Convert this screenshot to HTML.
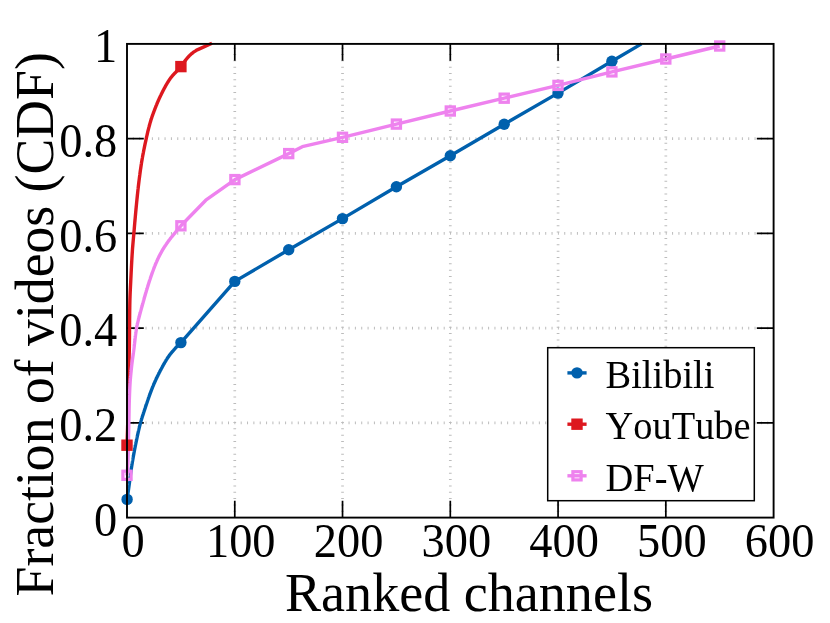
<!DOCTYPE html>
<html><head><meta charset="utf-8"><title>CDF</title>
<style>
html,body{margin:0;padding:0;background:#fff;}
body{width:830px;height:623px;overflow:hidden;}
svg{display:block;will-change:transform;}
text{font-family:"Liberation Serif",serif;fill:#000;font-kerning:none;}
</style></head><body>
<svg width="830" height="623" viewBox="0 0 830 623">
<rect x="0" y="0" width="830" height="623" fill="#fff"/>
<g stroke="#bcbcbc" stroke-width="2.7" stroke-dasharray="1 5.344" fill="none"><line x1="234.77" y1="518.10" x2="234.77" y2="43.90"/><line x1="342.53" y1="518.10" x2="342.53" y2="43.90"/><line x1="450.30" y1="518.10" x2="450.30" y2="43.90"/><line x1="558.07" y1="518.10" x2="558.07" y2="43.90"/><line x1="665.83" y1="518.10" x2="665.83" y2="43.90"/><line x1="126.50" y1="422.86" x2="773.60" y2="422.86"/><line x1="126.50" y1="328.12" x2="773.60" y2="328.12"/><line x1="126.50" y1="233.38" x2="773.60" y2="233.38"/><line x1="126.50" y1="138.64" x2="773.60" y2="138.64"/></g>
<path d="M234.77,517.60 v-16.80 M234.77,43.90 v16.80 M342.53,517.60 v-16.80 M342.53,43.90 v16.80 M450.30,517.60 v-16.80 M450.30,43.90 v16.80 M558.07,517.60 v-16.80 M558.07,43.90 v16.80 M665.83,517.60 v-16.80 M665.83,43.90 v16.80 M127.00,422.86 h16.80 M773.60,422.86 h-16.80 M127.00,328.12 h16.80 M773.60,328.12 h-16.80 M127.00,233.38 h16.80 M773.60,233.38 h-16.80 M127.00,138.64 h16.80 M773.60,138.64 h-16.80" stroke="#000" stroke-width="1.7" fill="none"/>
<g fill="none" stroke-width="3.4" stroke-linejoin="round" stroke-linecap="butt"><path d="M127.10,499.40 L127.15,499.08 L127.19,498.76 L127.24,498.44 L127.29,498.11 L127.33,497.79 L127.38,497.47 L127.43,497.15 L127.47,496.83 L127.52,496.51 L127.57,496.18 L127.61,495.86 L127.66,495.54 L127.71,495.22 L127.75,494.90 L127.80,494.58 L127.84,494.25 L127.89,493.93 L127.94,493.61 L127.98,493.29 L128.03,492.97 L128.07,492.64 L128.12,492.32 L128.16,492.00 L128.21,491.68 L128.26,491.36 L128.30,491.04 L128.35,490.71 L128.39,490.39 L128.44,490.07 L128.48,489.75 L128.53,489.43 L128.57,489.10 L128.62,488.78 L128.66,488.46 L128.71,488.14 L128.75,487.82 L128.79,487.50 L128.84,487.17 L128.88,486.85 L128.93,486.53 L128.97,486.21 L129.02,485.89 L129.06,485.56 L129.10,485.24 L129.15,484.92 L129.19,484.60 L129.24,484.28 L129.28,483.95 L129.32,483.63 L129.37,483.31 L129.41,482.99 L129.45,482.67 L129.49,482.34 L129.54,482.02 L129.58,481.70 L129.62,481.38 L129.66,481.05 L129.70,480.73 L129.74,480.41 L129.78,480.09 L129.82,479.76 L129.87,479.44 L129.91,479.12 L129.95,478.80 L129.99,478.47 L130.03,478.15 L130.07,477.83 L130.11,477.51 L130.15,477.18 L130.19,476.86 L130.23,476.54 L130.27,476.22 L130.31,475.89 L130.35,475.57 L130.40,475.25 L130.44,474.93 L130.48,474.60 L130.52,474.28 L130.56,473.96 L130.61,473.64 L130.65,473.32 L130.69,472.99 L130.74,472.67 L130.78,472.35 L130.83,472.03 L130.87,471.71 L130.92,471.38 L130.96,471.06 L131.01,470.74 L131.06,470.42 L131.10,470.10 L131.15,469.78 L131.20,469.46 L131.25,469.13 L131.29,468.81 L131.34,468.49 L131.39,468.17 L131.44,467.85 L131.49,467.53 L131.54,467.21 L131.59,466.89 L131.64,466.57 L131.69,466.24 L131.74,465.92 L131.80,465.60 L131.85,465.28 L131.90,464.96 L131.95,464.64 L132.00,464.32 L132.06,464.00 L132.11,463.68 L132.16,463.36 L132.22,463.04 L132.27,462.72 L132.32,462.40 L132.38,462.07 L132.43,461.75 L132.48,461.43 L132.54,461.11 L132.59,460.79 L132.65,460.47 L132.70,460.15 L132.76,459.83 L132.81,459.51 L132.87,459.19 L132.92,458.87 L132.98,458.55 L133.04,458.23 L133.09,457.91 L133.15,457.59 L133.20,457.27 L133.26,456.95 L133.32,456.63 L133.37,456.31 L133.43,455.99 L133.49,455.67 L133.54,455.35 L133.60,455.03 L133.66,454.71 L133.72,454.39 L133.77,454.07 L133.83,453.75 L133.89,453.43 L133.95,453.11 L134.01,452.79 L134.07,452.47 L134.13,452.15 L134.19,451.83 L134.24,451.51 L134.30,451.19 L134.36,450.87 L134.42,450.56 L134.48,450.24 L134.55,449.92 L134.61,449.60 L134.67,449.28 L134.73,448.96 L134.79,448.64 L134.85,448.32 L134.91,448.00 L134.98,447.68 L135.04,447.36 L135.10,447.04 L135.16,446.73 L135.23,446.41 L135.29,446.09 L135.35,445.77 L135.42,445.45 L135.48,445.13 L135.55,444.81 L135.61,444.49 L135.67,444.18 L135.74,443.86 L135.80,443.54 L135.87,443.22 L135.93,442.90 L136.00,442.58 L136.07,442.27 L136.13,441.95 L136.20,441.63 L136.26,441.31 L136.33,440.99 L136.40,440.68 L136.46,440.36 L136.53,440.04 L136.60,439.72 L136.66,439.40 L136.73,439.08 L136.79,438.77 L136.86,438.45 L136.93,438.13 L137.00,437.81 L137.06,437.49 L137.13,437.17 L137.20,436.86 L137.27,436.54 L137.33,436.22 L137.40,435.90 L137.47,435.58 L137.54,435.27 L137.61,434.95 L137.68,434.63 L137.75,434.31 L137.82,433.99 L137.89,433.68 L137.96,433.36 L138.03,433.04 L138.10,432.72 L138.17,432.41 L138.24,432.09 L138.31,431.77 L138.38,431.45 L138.45,431.14 L138.53,430.82 L138.60,430.50 L138.67,430.19 L138.75,429.87 L138.82,429.55 L138.89,429.24 L138.97,428.92 L139.04,428.60 L139.12,428.29 L139.20,427.97 L139.27,427.66 L139.35,427.34 L139.43,427.03 L139.50,426.71 L139.58,426.40 L139.66,426.08 L139.74,425.77 L139.82,425.45 L139.90,425.14 L139.98,424.82 L140.06,424.51 L140.14,424.19 L140.23,423.88 L140.31,423.57 L140.39,423.25 L140.48,422.94 L140.56,422.63 L140.65,422.32 L140.74,422.00 L140.83,421.69 L140.91,421.38 L141.01,421.07 L141.10,420.76 L141.19,420.44 L141.28,420.13 L141.37,419.82 L141.47,419.51 L141.56,419.20 L141.66,418.89 L141.75,418.58 L141.85,418.27 L141.95,417.96 L142.04,417.65 L142.14,417.34 L142.24,417.03 L142.34,416.72 L142.44,416.41 L142.54,416.10 L142.64,415.79 L142.74,415.48 L142.84,415.17 L142.94,414.86 L143.04,414.55 L143.14,414.24 L143.24,413.93 L143.35,413.62 L143.45,413.31 L143.55,413.00 L143.65,412.70 L143.75,412.39 L143.85,412.08 L143.95,411.77 L144.06,411.46 L144.16,411.15 L144.26,410.84 L144.36,410.53 L144.46,410.22 L144.56,409.91 L144.66,409.61 L144.76,409.30 L144.86,408.99 L144.96,408.68 L145.06,408.37 L145.17,408.06 L145.27,407.75 L145.37,407.44 L145.47,407.13 L145.57,406.83 L145.67,406.52 L145.77,406.21 L145.88,405.90 L145.98,405.59 L146.08,405.28 L146.18,404.97 L146.29,404.67 L146.39,404.36 L146.49,404.05 L146.60,403.74 L146.70,403.43 L146.80,403.12 L146.91,402.82 L147.01,402.51 L147.11,402.20 L147.22,401.89 L147.32,401.58 L147.43,401.28 L147.53,400.97 L147.64,400.66 L147.75,400.35 L147.85,400.05 L147.96,399.74 L148.06,399.43 L148.17,399.13 L148.28,398.82 L148.38,398.51 L148.49,398.21 L148.60,397.90 L148.71,397.59 L148.82,397.29 L148.92,396.98 L149.03,396.67 L149.14,396.37 L149.25,396.06 L149.36,395.76 L149.47,395.45 L149.58,395.14 L149.69,394.84 L149.80,394.53 L149.92,394.23 L150.03,393.92 L150.14,393.62 L150.25,393.31 L150.36,393.01 L150.48,392.71 L150.59,392.40 L150.70,392.10 L150.82,391.79 L150.93,391.49 L151.05,391.18 L151.16,390.88 L151.28,390.57 L151.39,390.27 L151.51,389.97 L151.63,389.66 L151.74,389.36 L151.86,389.06 L151.98,388.75 L152.10,388.45 L152.22,388.15 L152.34,387.85 L152.46,387.54 L152.58,387.24 L152.70,386.94 L152.82,386.64 L152.95,386.34 L153.07,386.04 L153.19,385.74 L153.32,385.44 L153.44,385.14 L153.57,384.84 L153.70,384.54 L153.82,384.24 L153.95,383.94 L154.08,383.65 L154.21,383.35 L154.34,383.05 L154.47,382.75 L154.60,382.46 L154.73,382.16 L154.87,381.86 L155.00,381.57 L155.13,381.27 L155.27,380.97 L155.40,380.68 L155.54,380.38 L155.67,380.09 L155.81,379.79 L155.94,379.49 L156.08,379.20 L156.22,378.90 L156.36,378.61 L156.49,378.32 L156.63,378.02 L156.77,377.73 L156.91,377.43 L157.05,377.14 L157.19,376.85 L157.34,376.55 L157.48,376.26 L157.62,375.97 L157.76,375.68 L157.91,375.38 L158.05,375.09 L158.20,374.80 L158.34,374.51 L158.49,374.22 L158.63,373.93 L158.78,373.64 L158.92,373.35 L159.07,373.06 L159.22,372.77 L159.37,372.48 L159.52,372.19 L159.66,371.90 L159.81,371.61 L159.96,371.32 L160.11,371.04 L160.26,370.75 L160.41,370.46 L160.57,370.18 L160.72,369.89 L160.87,369.60 L161.02,369.32 L161.17,369.03 L161.33,368.74 L161.48,368.45 L161.63,368.17 L161.79,367.88 L161.94,367.59 L162.10,367.31 L162.25,367.02 L162.41,366.73 L162.56,366.45 L162.72,366.16 L162.87,365.87 L163.03,365.59 L163.19,365.30 L163.35,365.01 L163.51,364.73 L163.67,364.44 L163.83,364.16 L163.99,363.88 L164.15,363.59 L164.31,363.31 L164.47,363.02 L164.63,362.74 L164.80,362.46 L164.96,362.18 L165.13,361.90 L165.29,361.62 L165.46,361.34 L165.63,361.06 L165.80,360.78 L165.96,360.50 L166.13,360.22 L166.30,359.95 L166.48,359.67 L166.65,359.39 L166.82,359.12 L167.00,358.85 L167.17,358.57 L167.35,358.30 L167.52,358.03 L167.70,357.76 L167.88,357.49 L168.06,357.22 L168.24,356.95 L168.42,356.69 L168.61,356.42 L168.79,356.16 L168.97,355.89 L169.16,355.63 L169.35,355.37 L169.54,355.11 L169.74,354.85 L169.93,354.59 L170.13,354.33 L170.33,354.08 L170.53,353.82 L170.73,353.57 L170.93,353.31 L171.14,353.06 L171.34,352.81 L171.55,352.56 L171.76,352.30 L171.97,352.05 L172.18,351.81 L172.39,351.56 L172.60,351.31 L172.82,351.06 L173.03,350.82 L173.25,350.57 L173.46,350.32 L173.68,350.08 L173.89,349.84 L174.11,349.59 L174.33,349.35 L174.54,349.11 L174.76,348.87 L174.98,348.63 L175.19,348.39 L175.41,348.15 L175.63,347.91 L175.85,347.67 L176.07,347.43 L176.29,347.19 L176.52,346.96 L176.74,346.72 L176.96,346.49 L177.19,346.25 L177.42,346.02 L177.64,345.79 L177.87,345.55 L178.10,345.32 L178.33,345.09 L178.56,344.86 L178.79,344.63 L179.02,344.40 L179.25,344.18 L179.49,343.95 L179.72,343.72 L179.95,343.50 L180.19,343.27 L180.43,343.05 L180.66,342.82 L180.90,342.60 L234.80,281.40 L288.70,249.80 L342.50,218.60 L396.40,186.70 L450.30,155.80 L504.20,124.20 L558.00,93.10 L611.90,61.30 L641.50,43.90" stroke="#0060ad"/><path d="M127.00,445.20 L127.02,444.71 L127.04,444.22 L127.05,443.72 L127.07,443.23 L127.09,442.74 L127.11,442.25 L127.12,441.76 L127.14,441.27 L127.16,440.77 L127.18,440.28 L127.19,439.79 L127.21,439.30 L127.23,438.81 L127.24,438.31 L127.26,437.82 L127.28,437.33 L127.29,436.84 L127.31,436.35 L127.33,435.85 L127.34,435.36 L127.36,434.87 L127.38,434.38 L127.39,433.89 L127.41,433.40 L127.43,432.90 L127.44,432.41 L127.46,431.92 L127.47,431.43 L127.49,430.94 L127.51,430.44 L127.52,429.95 L127.54,429.46 L127.55,428.97 L127.57,428.48 L127.58,427.98 L127.60,427.49 L127.61,427.00 L127.62,426.51 L127.64,426.02 L127.65,425.53 L127.67,425.03 L127.68,424.54 L127.69,424.05 L127.71,423.56 L127.72,423.07 L127.73,422.57 L127.75,422.08 L127.76,421.59 L127.77,421.10 L127.79,420.61 L127.80,420.11 L127.81,419.62 L127.82,419.13 L127.83,418.64 L127.84,418.15 L127.86,417.65 L127.87,417.16 L127.88,416.67 L127.89,416.18 L127.90,415.69 L127.91,415.19 L127.92,414.70 L127.93,414.21 L127.94,413.72 L127.95,413.23 L127.96,412.73 L127.97,412.24 L127.98,411.75 L127.99,411.26 L128.00,410.77 L128.01,410.27 L128.02,409.78 L128.03,409.29 L128.04,408.80 L128.05,408.31 L128.06,407.81 L128.07,407.32 L128.08,406.83 L128.09,406.34 L128.10,405.85 L128.10,405.35 L128.11,404.86 L128.12,404.37 L128.13,403.88 L128.14,403.39 L128.15,402.89 L128.16,402.40 L128.16,401.91 L128.17,401.42 L128.18,400.92 L128.19,400.43 L128.20,399.94 L128.21,399.45 L128.21,398.96 L128.22,398.46 L128.23,397.97 L128.24,397.48 L128.25,396.99 L128.25,396.50 L128.26,396.00 L128.27,395.51 L128.28,395.02 L128.29,394.53 L128.29,394.04 L128.30,393.54 L128.31,393.05 L128.32,392.56 L128.33,392.07 L128.33,391.58 L128.34,391.08 L128.35,390.59 L128.36,390.10 L128.37,389.61 L128.37,389.11 L128.38,388.62 L128.39,388.13 L128.40,387.64 L128.41,387.15 L128.42,386.65 L128.42,386.16 L128.43,385.67 L128.44,385.18 L128.45,384.69 L128.46,384.19 L128.47,383.70 L128.47,383.21 L128.48,382.72 L128.49,382.23 L128.50,381.73 L128.51,381.24 L128.52,380.75 L128.53,380.26 L128.54,379.77 L128.54,379.27 L128.55,378.78 L128.56,378.29 L128.57,377.80 L128.58,377.31 L128.59,376.81 L128.60,376.32 L128.61,375.83 L128.62,375.34 L128.63,374.84 L128.64,374.35 L128.65,373.86 L128.66,373.37 L128.67,372.88 L128.68,372.38 L128.69,371.89 L128.70,371.40 L128.71,370.91 L128.72,370.42 L128.73,369.92 L128.74,369.43 L128.75,368.94 L128.77,368.45 L128.78,367.96 L128.79,367.46 L128.80,366.97 L128.81,366.48 L128.83,365.99 L128.84,365.50 L128.85,365.00 L128.87,364.51 L128.88,364.02 L128.90,363.53 L128.91,363.04 L128.93,362.55 L128.94,362.05 L128.96,361.56 L128.98,361.07 L128.99,360.58 L129.01,360.09 L129.03,359.59 L129.04,359.10 L129.06,358.61 L129.08,358.12 L129.09,357.63 L129.11,357.13 L129.13,356.64 L129.14,356.15 L129.16,355.66 L129.17,355.17 L129.19,354.68 L129.20,354.18 L129.22,353.69 L129.23,353.20 L129.24,352.71 L129.25,352.22 L129.27,351.72 L129.28,351.23 L129.29,350.74 L129.30,350.25 L129.30,349.76 L129.31,349.26 L129.32,348.77 L129.33,348.28 L129.34,347.79 L129.34,347.30 L129.35,346.80 L129.36,346.31 L129.36,345.82 L129.37,345.33 L129.38,344.84 L129.38,344.34 L129.39,343.85 L129.40,343.36 L129.40,342.87 L129.41,342.37 L129.41,341.88 L129.42,341.39 L129.43,340.90 L129.43,340.41 L129.44,339.91 L129.44,339.42 L129.45,338.93 L129.45,338.44 L129.46,337.95 L129.46,337.45 L129.47,336.96 L129.47,336.47 L129.47,335.98 L129.48,335.48 L129.48,334.99 L129.49,334.50 L129.49,334.01 L129.50,333.52 L129.50,333.02 L129.50,332.53 L129.51,332.04 L129.51,331.55 L129.51,331.05 L129.52,330.56 L129.52,330.07 L129.53,329.58 L129.53,329.09 L129.53,328.59 L129.54,328.10 L129.54,327.61 L129.55,327.12 L129.55,326.63 L129.55,326.13 L129.56,325.64 L129.56,325.15 L129.56,324.66 L129.57,324.16 L129.57,323.67 L129.58,323.18 L129.58,322.69 L129.58,322.20 L129.59,321.70 L129.59,321.21 L129.60,320.72 L129.60,320.23 L129.60,319.73 L129.61,319.24 L129.61,318.75 L129.62,318.26 L129.62,317.77 L129.63,317.27 L129.63,316.78 L129.64,316.29 L129.64,315.80 L129.65,315.31 L129.65,314.81 L129.66,314.32 L129.66,313.83 L129.67,313.34 L129.68,312.85 L129.68,312.35 L129.69,311.86 L129.69,311.37 L129.70,310.88 L129.71,310.39 L129.71,309.89 L129.72,309.40 L129.73,308.91 L129.74,308.42 L129.74,307.93 L129.75,307.43 L129.76,306.94 L129.77,306.45 L129.77,305.96 L129.78,305.47 L129.79,304.97 L129.80,304.48 L129.81,303.99 L129.82,303.50 L129.83,303.01 L129.84,302.51 L129.85,302.02 L129.87,301.53 L129.88,301.04 L129.89,300.55 L129.91,300.06 L129.92,299.56 L129.94,299.07 L129.95,298.58 L129.97,298.09 L129.99,297.60 L130.00,297.10 L130.02,296.61 L130.04,296.12 L130.06,295.63 L130.08,295.14 L130.10,294.65 L130.12,294.15 L130.14,293.66 L130.16,293.17 L130.18,292.68 L130.20,292.19 L130.22,291.69 L130.25,291.20 L130.27,290.71 L130.29,290.22 L130.31,289.73 L130.34,289.24 L130.36,288.74 L130.38,288.25 L130.41,287.76 L130.43,287.27 L130.45,286.78 L130.48,286.29 L130.50,285.79 L130.53,285.30 L130.55,284.81 L130.58,284.32 L130.60,283.83 L130.63,283.34 L130.65,282.84 L130.68,282.35 L130.70,281.86 L130.72,281.37 L130.75,280.88 L130.77,280.39 L130.80,279.90 L130.82,279.40 L130.85,278.91 L130.87,278.42 L130.90,277.93 L130.92,277.44 L130.94,276.95 L130.97,276.45 L130.99,275.96 L131.02,275.47 L131.04,274.98 L131.06,274.49 L131.09,274.00 L131.11,273.51 L131.13,273.01 L131.16,272.52 L131.18,272.03 L131.21,271.54 L131.23,271.05 L131.26,270.56 L131.28,270.06 L131.30,269.57 L131.33,269.08 L131.35,268.59 L131.38,268.10 L131.40,267.61 L131.43,267.11 L131.45,266.62 L131.48,266.13 L131.51,265.64 L131.53,265.15 L131.56,264.66 L131.58,264.17 L131.61,263.67 L131.64,263.18 L131.66,262.69 L131.69,262.20 L131.72,261.71 L131.75,261.22 L131.77,260.73 L131.80,260.23 L131.83,259.74 L131.86,259.25 L131.89,258.76 L131.92,258.27 L131.94,257.78 L131.97,257.29 L132.00,256.79 L132.03,256.30 L132.06,255.81 L132.09,255.32 L132.12,254.83 L132.16,254.34 L132.19,253.85 L132.22,253.36 L132.25,252.87 L132.28,252.38 L132.31,251.88 L132.35,251.39 L132.38,250.90 L132.41,250.41 L132.45,249.92 L132.48,249.43 L132.52,248.94 L132.55,248.45 L132.59,247.96 L132.63,247.47 L132.67,246.98 L132.71,246.49 L132.75,246.00 L132.79,245.51 L132.83,245.01 L132.87,244.52 L132.91,244.03 L132.95,243.54 L133.00,243.05 L133.04,242.56 L133.08,242.07 L133.12,241.58 L133.17,241.09 L133.21,240.60 L133.26,240.11 L133.30,239.62 L133.34,239.13 L133.39,238.64 L133.43,238.15 L133.48,237.66 L133.52,237.17 L133.57,236.68 L133.61,236.19 L133.65,235.70 L133.70,235.21 L133.74,234.72 L133.78,234.23 L133.83,233.74 L133.87,233.25 L133.91,232.76 L133.95,232.27 L134.00,231.78 L134.04,231.29 L134.08,230.80 L134.12,230.31 L134.17,229.82 L134.21,229.33 L134.25,228.84 L134.29,228.35 L134.33,227.85 L134.38,227.36 L134.42,226.87 L134.46,226.38 L134.50,225.89 L134.54,225.40 L134.59,224.91 L134.63,224.42 L134.67,223.93 L134.71,223.44 L134.76,222.95 L134.80,222.46 L134.84,221.97 L134.89,221.48 L134.93,220.99 L134.97,220.50 L135.01,220.01 L135.06,219.52 L135.10,219.03 L135.14,218.54 L135.19,218.05 L135.23,217.56 L135.28,217.07 L135.32,216.58 L135.36,216.09 L135.41,215.60 L135.45,215.11 L135.50,214.62 L135.54,214.13 L135.59,213.64 L135.63,213.15 L135.68,212.66 L135.72,212.17 L135.77,211.68 L135.81,211.19 L135.86,210.70 L135.91,210.21 L135.95,209.72 L136.00,209.23 L136.04,208.74 L136.09,208.25 L136.14,207.76 L136.18,207.27 L136.23,206.78 L136.28,206.29 L136.33,205.80 L136.37,205.31 L136.42,204.82 L136.47,204.33 L136.52,203.84 L136.56,203.35 L136.61,202.86 L136.66,202.37 L136.71,201.88 L136.76,201.39 L136.81,200.90 L136.86,200.41 L136.91,199.92 L136.96,199.43 L137.01,198.94 L137.06,198.45 L137.11,197.96 L137.16,197.47 L137.21,196.98 L137.26,196.49 L137.31,196.00 L137.36,195.52 L137.41,195.03 L137.46,194.54 L137.51,194.05 L137.56,193.56 L137.62,193.07 L137.67,192.58 L137.72,192.09 L137.77,191.60 L137.83,191.11 L137.88,190.62 L137.93,190.13 L137.99,189.64 L138.04,189.15 L138.09,188.66 L138.15,188.18 L138.20,187.69 L138.26,187.20 L138.32,186.71 L138.37,186.22 L138.43,185.73 L138.49,185.24 L138.55,184.75 L138.60,184.27 L138.66,183.78 L138.72,183.29 L138.78,182.80 L138.84,182.31 L138.90,181.82 L138.96,181.33 L139.02,180.85 L139.08,180.36 L139.14,179.87 L139.20,179.38 L139.27,178.89 L139.33,178.40 L139.39,177.91 L139.45,177.43 L139.52,176.94 L139.58,176.45 L139.64,175.96 L139.71,175.47 L139.77,174.98 L139.84,174.50 L139.90,174.01 L139.97,173.52 L140.03,173.03 L140.10,172.55 L140.17,172.06 L140.23,171.57 L140.30,171.08 L140.37,170.59 L140.44,170.11 L140.51,169.62 L140.58,169.13 L140.65,168.65 L140.72,168.16 L140.79,167.67 L140.86,167.18 L140.93,166.70 L141.01,166.21 L141.08,165.73 L141.15,165.24 L141.23,164.75 L141.30,164.27 L141.38,163.78 L141.46,163.30 L141.53,162.81 L141.61,162.32 L141.69,161.84 L141.77,161.35 L141.85,160.87 L141.93,160.38 L142.01,159.90 L142.10,159.41 L142.18,158.93 L142.26,158.44 L142.35,157.96 L142.43,157.47 L142.52,156.99 L142.61,156.51 L142.70,156.02 L142.78,155.54 L142.87,155.05 L142.96,154.57 L143.05,154.09 L143.14,153.60 L143.24,153.12 L143.33,152.63 L143.42,152.15 L143.52,151.67 L143.61,151.18 L143.70,150.70 L143.80,150.22 L143.90,149.73 L143.99,149.25 L144.09,148.77 L144.19,148.29 L144.29,147.80 L144.38,147.32 L144.48,146.84 L144.58,146.36 L144.68,145.87 L144.78,145.39 L144.88,144.91 L144.99,144.43 L145.09,143.95 L145.19,143.46 L145.29,142.98 L145.40,142.50 L145.50,142.02 L145.60,141.54 L145.71,141.06 L145.81,140.58 L145.92,140.10 L146.02,139.62 L146.13,139.14 L146.23,138.66 L146.34,138.18 L146.44,137.70 L146.55,137.22 L146.66,136.74 L146.77,136.25 L146.87,135.77 L146.98,135.29 L147.09,134.81 L147.20,134.33 L147.31,133.85 L147.43,133.37 L147.54,132.89 L147.65,132.41 L147.76,131.93 L147.88,131.45 L147.99,130.98 L148.11,130.50 L148.23,130.02 L148.35,129.54 L148.47,129.06 L148.59,128.58 L148.71,128.11 L148.83,127.63 L148.95,127.15 L149.08,126.68 L149.20,126.20 L149.33,125.73 L149.46,125.25 L149.59,124.78 L149.72,124.30 L149.85,123.83 L149.98,123.36 L150.12,122.88 L150.25,122.41 L150.39,121.94 L150.53,121.47 L150.67,121.00 L150.81,120.53 L150.96,120.06 L151.11,119.59 L151.25,119.12 L151.41,118.66 L151.56,118.19 L151.72,117.72 L151.87,117.25 L152.03,116.79 L152.19,116.32 L152.35,115.86 L152.52,115.39 L152.68,114.93 L152.85,114.46 L153.02,114.00 L153.18,113.54 L153.35,113.07 L153.53,112.61 L153.70,112.15 L153.87,111.69 L154.04,111.23 L154.22,110.76 L154.39,110.30 L154.57,109.84 L154.74,109.38 L154.92,108.93 L155.10,108.47 L155.27,108.01 L155.45,107.55 L155.63,107.09 L155.81,106.63 L155.99,106.18 L156.18,105.72 L156.36,105.26 L156.55,104.81 L156.73,104.35 L156.92,103.89 L157.11,103.44 L157.30,102.98 L157.49,102.53 L157.68,102.08 L157.88,101.62 L158.07,101.17 L158.27,100.72 L158.47,100.27 L158.67,99.82 L158.87,99.37 L159.07,98.92 L159.28,98.47 L159.48,98.03 L159.69,97.58 L159.90,97.14 L160.11,96.69 L160.32,96.25 L160.54,95.81 L160.75,95.37 L160.97,94.93 L161.18,94.48 L161.40,94.04 L161.62,93.60 L161.84,93.15 L162.06,92.71 L162.28,92.27 L162.50,91.82 L162.72,91.38 L162.95,90.94 L163.17,90.50 L163.40,90.06 L163.63,89.62 L163.86,89.18 L164.09,88.74 L164.32,88.30 L164.56,87.86 L164.79,87.43 L165.03,86.99 L165.27,86.56 L165.51,86.12 L165.75,85.69 L166.00,85.26 L166.24,84.83 L166.49,84.41 L166.74,83.98 L166.99,83.56 L167.25,83.14 L167.50,82.72 L167.76,82.30 L168.02,81.88 L168.28,81.47 L168.54,81.06 L168.81,80.65 L169.08,80.24 L169.35,79.84 L169.62,79.43 L169.89,79.04 L170.17,78.64 L170.45,78.25 L170.74,77.86 L171.04,77.47 L171.34,77.09 L171.65,76.71 L171.96,76.34 L172.28,75.97 L172.60,75.60 L172.92,75.23 L173.25,74.86 L173.59,74.50 L173.92,74.14 L174.26,73.78 L174.60,73.42 L174.95,73.07 L175.29,72.71 L175.64,72.35 L175.98,72.00 L176.33,71.64 L176.67,71.28 L177.02,70.93 L177.36,70.57 L177.71,70.21 L178.05,69.85 L178.39,69.49 L178.72,69.12 L179.06,68.76 L179.39,68.39 L179.71,68.02 L180.03,67.65 L180.35,67.27 L180.66,66.89 L180.97,66.51 L181.27,66.12 L181.57,65.73 L181.86,65.34 L182.15,64.94 L182.43,64.53 L182.71,64.13 L183.00,63.72 L183.28,63.31 L183.56,62.91 L183.84,62.50 L184.12,62.10 L184.40,61.69 L184.69,61.30 L184.98,60.90 L185.28,60.51 L185.58,60.12 L185.89,59.74 L186.20,59.36 L186.51,58.98 L186.83,58.61 L187.15,58.23 L187.48,57.85 L187.80,57.48 L188.13,57.11 L188.47,56.74 L188.80,56.38 L189.14,56.01 L189.49,55.66 L189.83,55.31 L190.19,54.97 L190.54,54.63 L190.90,54.30 L191.27,53.98 L191.64,53.67 L192.01,53.36 L192.39,53.06 L192.78,52.77 L193.17,52.47 L193.57,52.19 L193.97,51.90 L194.38,51.63 L194.79,51.35 L195.21,51.09 L195.63,50.83 L196.05,50.57 L196.48,50.32 L196.92,50.07 L197.36,49.83 L197.80,49.60 L212.00,43.20" stroke="#dd181f"/><path d="M127.00,475.30 L127.03,474.94 L127.06,474.58 L127.09,474.22 L127.12,473.85 L127.15,473.49 L127.18,473.13 L127.21,472.77 L127.24,472.41 L127.26,472.05 L127.29,471.69 L127.32,471.32 L127.35,470.96 L127.38,470.60 L127.40,470.24 L127.43,469.88 L127.46,469.52 L127.48,469.15 L127.51,468.79 L127.54,468.43 L127.56,468.07 L127.59,467.71 L127.61,467.35 L127.63,466.98 L127.66,466.62 L127.68,466.26 L127.70,465.90 L127.72,465.54 L127.74,465.18 L127.76,464.81 L127.78,464.45 L127.80,464.09 L127.82,463.73 L127.84,463.37 L127.86,463.01 L127.87,462.64 L127.89,462.28 L127.90,461.92 L127.92,461.56 L127.93,461.20 L127.95,460.83 L127.96,460.47 L127.97,460.11 L127.99,459.75 L128.00,459.38 L128.01,459.02 L128.02,458.66 L128.04,458.30 L128.05,457.94 L128.06,457.57 L128.07,457.21 L128.08,456.85 L128.10,456.49 L128.11,456.13 L128.12,455.76 L128.13,455.40 L128.14,455.04 L128.15,454.68 L128.16,454.31 L128.17,453.95 L128.18,453.59 L128.19,453.23 L128.20,452.86 L128.21,452.50 L128.22,452.14 L128.23,451.78 L128.24,451.41 L128.25,451.05 L128.26,450.69 L128.26,450.33 L128.27,449.96 L128.28,449.60 L128.29,449.24 L128.30,448.88 L128.31,448.52 L128.32,448.15 L128.32,447.79 L128.33,447.43 L128.34,447.07 L128.35,446.70 L128.36,446.34 L128.37,445.98 L128.37,445.62 L128.38,445.25 L128.39,444.89 L128.40,444.53 L128.41,444.17 L128.41,443.80 L128.42,443.44 L128.43,443.08 L128.44,442.72 L128.45,442.35 L128.45,441.99 L128.46,441.63 L128.47,441.27 L128.48,440.90 L128.49,440.54 L128.50,440.18 L128.50,439.82 L128.51,439.45 L128.52,439.09 L128.53,438.73 L128.54,438.37 L128.54,438.00 L128.55,437.64 L128.56,437.28 L128.57,436.92 L128.58,436.56 L128.58,436.19 L128.59,435.83 L128.60,435.47 L128.61,435.11 L128.61,434.74 L128.62,434.38 L128.63,434.02 L128.64,433.66 L128.64,433.29 L128.65,432.93 L128.66,432.57 L128.67,432.21 L128.67,431.84 L128.68,431.48 L128.69,431.12 L128.69,430.76 L128.70,430.39 L128.71,430.03 L128.71,429.67 L128.72,429.31 L128.73,428.95 L128.74,428.58 L128.74,428.22 L128.75,427.86 L128.76,427.50 L128.76,427.13 L128.77,426.77 L128.78,426.41 L128.78,426.05 L128.79,425.68 L128.80,425.32 L128.80,424.96 L128.81,424.60 L128.82,424.23 L128.83,423.87 L128.83,423.51 L128.84,423.15 L128.85,422.78 L128.85,422.42 L128.86,422.06 L128.87,421.70 L128.87,421.33 L128.88,420.97 L128.89,420.61 L128.90,420.25 L128.90,419.89 L128.91,419.52 L128.92,419.16 L128.92,418.80 L128.93,418.44 L128.94,418.07 L128.94,417.71 L128.95,417.35 L128.96,416.99 L128.96,416.62 L128.97,416.26 L128.98,415.90 L128.98,415.54 L128.99,415.17 L128.99,414.81 L129.00,414.45 L129.01,414.09 L129.01,413.72 L129.02,413.36 L129.03,413.00 L129.03,412.64 L129.04,412.27 L129.04,411.91 L129.05,411.55 L129.06,411.19 L129.06,410.82 L129.07,410.46 L129.08,410.10 L129.08,409.74 L129.09,409.37 L129.10,409.01 L129.11,408.65 L129.11,408.29 L129.12,407.93 L129.13,407.56 L129.14,407.20 L129.14,406.84 L129.15,406.48 L129.16,406.11 L129.17,405.75 L129.18,405.39 L129.19,405.03 L129.20,404.66 L129.21,404.30 L129.21,403.94 L129.22,403.58 L129.23,403.21 L129.24,402.85 L129.25,402.49 L129.26,402.13 L129.27,401.77 L129.29,401.40 L129.30,401.04 L129.31,400.68 L129.32,400.32 L129.33,399.95 L129.34,399.59 L129.35,399.23 L129.36,398.87 L129.38,398.50 L129.39,398.14 L129.40,397.78 L129.41,397.42 L129.43,397.05 L129.44,396.69 L129.45,396.33 L129.47,395.97 L129.48,395.61 L129.49,395.24 L129.51,394.88 L129.52,394.52 L129.53,394.16 L129.55,393.79 L129.56,393.43 L129.58,393.07 L129.59,392.71 L129.61,392.34 L129.62,391.98 L129.64,391.62 L129.66,391.26 L129.67,390.90 L129.69,390.53 L129.70,390.17 L129.72,389.81 L129.74,389.45 L129.75,389.09 L129.77,388.72 L129.79,388.36 L129.81,388.00 L129.82,387.64 L129.84,387.28 L129.86,386.91 L129.88,386.55 L129.90,386.19 L129.92,385.83 L129.94,385.47 L129.96,385.10 L129.98,384.74 L130.00,384.38 L130.02,384.02 L130.04,383.66 L130.06,383.30 L130.08,382.94 L130.10,382.57 L130.13,382.21 L130.15,381.85 L130.18,381.49 L130.20,381.13 L130.23,380.77 L130.26,380.40 L130.28,380.04 L130.31,379.68 L130.34,379.32 L130.37,378.96 L130.40,378.60 L130.43,378.24 L130.46,377.88 L130.49,377.51 L130.53,377.15 L130.56,376.79 L130.59,376.43 L130.62,376.07 L130.66,375.71 L130.69,375.35 L130.72,374.99 L130.76,374.63 L130.79,374.26 L130.83,373.90 L130.86,373.54 L130.90,373.18 L130.94,372.82 L130.97,372.46 L131.01,372.10 L131.05,371.74 L131.08,371.38 L131.12,371.02 L131.16,370.66 L131.20,370.30 L131.23,369.93 L131.27,369.57 L131.31,369.21 L131.35,368.85 L131.38,368.49 L131.42,368.13 L131.46,367.77 L131.50,367.41 L131.54,367.05 L131.58,366.69 L131.62,366.33 L131.66,365.97 L131.70,365.61 L131.74,365.25 L131.78,364.89 L131.83,364.53 L131.87,364.17 L131.91,363.81 L131.96,363.45 L132.01,363.09 L132.05,362.73 L132.10,362.38 L132.14,362.02 L132.19,361.66 L132.24,361.30 L132.29,360.94 L132.34,360.58 L132.38,360.22 L132.43,359.86 L132.48,359.50 L132.53,359.14 L132.58,358.78 L132.63,358.42 L132.68,358.06 L132.73,357.71 L132.78,357.35 L132.83,356.99 L132.88,356.63 L132.93,356.27 L132.98,355.91 L133.03,355.55 L133.08,355.19 L133.13,354.83 L133.18,354.47 L133.23,354.11 L133.28,353.75 L133.33,353.40 L133.38,353.04 L133.43,352.68 L133.47,352.32 L133.52,351.96 L133.57,351.60 L133.62,351.24 L133.66,350.88 L133.71,350.52 L133.76,350.16 L133.80,349.80 L133.85,349.44 L133.89,349.08 L133.94,348.72 L133.98,348.36 L134.02,348.00 L134.07,347.64 L134.11,347.28 L134.15,346.92 L134.19,346.56 L134.24,346.20 L134.28,345.84 L134.32,345.48 L134.36,345.12 L134.40,344.76 L134.44,344.40 L134.48,344.03 L134.52,343.67 L134.57,343.31 L134.61,342.95 L134.65,342.59 L134.69,342.23 L134.73,341.87 L134.77,341.51 L134.81,341.15 L134.85,340.79 L134.89,340.43 L134.93,340.07 L134.97,339.71 L135.02,339.35 L135.06,338.98 L135.10,338.62 L135.14,338.26 L135.19,337.90 L135.23,337.54 L135.27,337.18 L135.32,336.82 L135.36,336.46 L135.40,336.10 L135.45,335.74 L135.49,335.38 L135.54,335.02 L135.59,334.66 L135.63,334.31 L135.68,333.95 L135.73,333.59 L135.78,333.23 L135.82,332.87 L135.87,332.51 L135.92,332.15 L135.98,331.79 L136.03,331.44 L136.08,331.08 L136.13,330.72 L136.19,330.36 L136.24,330.01 L136.30,329.65 L136.35,329.29 L136.41,328.94 L136.47,328.58 L136.53,328.22 L136.59,327.87 L136.65,327.51 L136.71,327.16 L136.78,326.80 L136.85,326.45 L136.92,326.09 L136.99,325.74 L137.06,325.38 L137.14,325.03 L137.21,324.67 L137.29,324.32 L137.37,323.97 L137.45,323.61 L137.53,323.26 L137.62,322.91 L137.70,322.55 L137.79,322.20 L137.87,321.85 L137.96,321.50 L138.05,321.14 L138.14,320.79 L138.23,320.44 L138.31,320.09 L138.41,319.74 L138.50,319.38 L138.59,319.03 L138.68,318.68 L138.77,318.33 L138.86,317.98 L138.95,317.63 L139.04,317.27 L139.13,316.92 L139.23,316.57 L139.32,316.22 L139.41,315.87 L139.50,315.52 L139.58,315.17 L139.68,314.82 L139.77,314.47 L139.86,314.11 L139.95,313.76 L140.04,313.41 L140.14,313.06 L140.23,312.71 L140.32,312.36 L140.42,312.01 L140.51,311.66 L140.61,311.31 L140.71,310.97 L140.80,310.62 L140.90,310.27 L141.00,309.92 L141.09,309.57 L141.19,309.22 L141.29,308.87 L141.39,308.52 L141.48,308.17 L141.58,307.82 L141.68,307.47 L141.78,307.12 L141.88,306.78 L141.98,306.43 L142.08,306.08 L142.17,305.73 L142.27,305.38 L142.37,305.03 L142.47,304.68 L142.57,304.33 L142.66,303.98 L142.76,303.64 L142.86,303.29 L142.96,302.94 L143.05,302.59 L143.15,302.24 L143.25,301.89 L143.35,301.54 L143.44,301.19 L143.54,300.84 L143.64,300.49 L143.73,300.14 L143.83,299.79 L143.93,299.44 L144.02,299.09 L144.12,298.75 L144.22,298.40 L144.32,298.05 L144.41,297.70 L144.51,297.35 L144.61,297.00 L144.71,296.65 L144.81,296.30 L144.91,295.95 L145.01,295.60 L145.10,295.26 L145.20,294.91 L145.30,294.56 L145.40,294.21 L145.50,293.86 L145.61,293.51 L145.71,293.17 L145.81,292.82 L145.91,292.47 L146.01,292.12 L146.12,291.78 L146.22,291.43 L146.33,291.08 L146.43,290.74 L146.53,290.39 L146.64,290.04 L146.74,289.69 L146.85,289.35 L146.95,289.00 L147.06,288.65 L147.16,288.31 L147.27,287.96 L147.37,287.61 L147.48,287.27 L147.59,286.92 L147.69,286.57 L147.80,286.23 L147.91,285.88 L148.02,285.53 L148.12,285.19 L148.23,284.84 L148.34,284.49 L148.45,284.15 L148.56,283.80 L148.67,283.46 L148.78,283.11 L148.89,282.77 L149.00,282.42 L149.11,282.07 L149.22,281.73 L149.33,281.38 L149.44,281.04 L149.55,280.69 L149.67,280.35 L149.78,280.01 L149.89,279.66 L150.01,279.32 L150.12,278.97 L150.24,278.63 L150.35,278.29 L150.47,277.94 L150.58,277.60 L150.70,277.26 L150.82,276.91 L150.93,276.57 L151.05,276.23 L151.17,275.89 L151.29,275.55 L151.41,275.20 L151.53,274.86 L151.65,274.52 L151.77,274.18 L151.89,273.83 L152.01,273.49 L152.13,273.15 L152.25,272.81 L152.37,272.47 L152.50,272.13 L152.62,271.78 L152.74,271.44 L152.87,271.10 L152.99,270.76 L153.12,270.42 L153.24,270.08 L153.37,269.74 L153.50,269.40 L153.62,269.06 L153.75,268.72 L153.88,268.38 L154.01,268.04 L154.14,267.70 L154.27,267.36 L154.40,267.02 L154.53,266.69 L154.67,266.35 L154.80,266.01 L154.93,265.68 L155.07,265.34 L155.21,265.00 L155.34,264.67 L155.48,264.33 L155.62,264.00 L155.76,263.67 L155.90,263.33 L156.04,263.00 L156.18,262.67 L156.33,262.34 L156.47,262.01 L156.62,261.68 L156.76,261.34 L156.91,261.01 L157.06,260.68 L157.21,260.35 L157.36,260.02 L157.51,259.69 L157.67,259.36 L157.82,259.04 L157.97,258.71 L158.13,258.38 L158.29,258.05 L158.45,257.72 L158.60,257.40 L158.76,257.07 L158.92,256.74 L159.09,256.42 L159.25,256.09 L159.41,255.77 L159.58,255.44 L159.74,255.12 L159.91,254.80 L160.08,254.48 L160.25,254.15 L160.42,253.83 L160.59,253.51 L160.76,253.19 L160.93,252.87 L161.10,252.56 L161.28,252.24 L161.45,251.92 L161.63,251.61 L161.81,251.29 L161.98,250.98 L162.16,250.66 L162.34,250.35 L162.52,250.04 L162.71,249.73 L162.89,249.42 L163.08,249.11 L163.27,248.80 L163.46,248.49 L163.65,248.18 L163.84,247.88 L164.03,247.57 L164.23,247.26 L164.42,246.96 L164.62,246.65 L164.82,246.35 L165.02,246.05 L165.22,245.74 L165.42,245.44 L165.63,245.14 L165.83,244.84 L166.04,244.54 L166.24,244.24 L166.45,243.94 L166.65,243.64 L166.86,243.34 L167.07,243.04 L167.28,242.75 L167.49,242.45 L167.70,242.16 L167.91,241.86 L168.12,241.57 L168.34,241.27 L168.55,240.98 L168.76,240.69 L168.98,240.40 L169.19,240.11 L169.41,239.82 L169.63,239.53 L169.84,239.24 L170.07,238.95 L170.29,238.67 L170.51,238.38 L170.74,238.10 L170.96,237.82 L171.19,237.53 L171.42,237.25 L171.65,236.97 L171.88,236.69 L172.11,236.41 L172.34,236.13 L172.57,235.85 L172.80,235.57 L173.03,235.29 L173.26,235.01 L173.49,234.73 L173.72,234.45 L173.96,234.17 L174.19,233.89 L174.42,233.61 L174.65,233.33 L174.88,233.05 L175.11,232.77 L175.34,232.49 L175.57,232.21 L175.80,231.93 L176.03,231.65 L176.26,231.37 L176.49,231.09 L176.72,230.81 L176.95,230.53 L177.18,230.25 L177.41,229.97 L177.64,229.69 L177.87,229.41 L178.11,229.13 L178.34,228.85 L178.57,228.58 L178.80,228.30 L179.03,228.02 L179.27,227.74 L179.50,227.46 L179.73,227.19 L179.97,226.91 L180.20,226.63 L180.43,226.35 L180.67,226.08 L180.90,225.80 L205.80,200.20 L234.90,179.60 L288.70,153.60 L302.30,146.70 L342.50,137.30 L396.40,124.10 L450.30,111.00 L504.20,98.20 L558.00,85.40 L611.90,71.90 L665.80,59.00 L719.70,46.00" stroke="#ee82ee"/></g>
<circle cx="127.10" cy="499.40" r="5.70" fill="#0060ad"/><circle cx="180.90" cy="342.60" r="5.70" fill="#0060ad"/><circle cx="234.80" cy="281.40" r="5.70" fill="#0060ad"/><circle cx="288.70" cy="249.80" r="5.70" fill="#0060ad"/><circle cx="342.50" cy="218.60" r="5.70" fill="#0060ad"/><circle cx="396.40" cy="186.70" r="5.70" fill="#0060ad"/><circle cx="450.30" cy="155.80" r="5.70" fill="#0060ad"/><circle cx="504.20" cy="124.20" r="5.70" fill="#0060ad"/><circle cx="558.00" cy="93.10" r="5.70" fill="#0060ad"/><circle cx="611.90" cy="61.30" r="5.70" fill="#0060ad"/><rect x="121.30" y="439.50" width="11.40" height="11.40" fill="#dd181f"/><rect x="175.20" y="60.90" width="11.40" height="11.40" fill="#dd181f"/><rect x="122.90" y="471.20" width="8.20" height="8.20" fill="none" stroke="#ee82ee" stroke-width="3.2"/><rect x="176.80" y="221.70" width="8.20" height="8.20" fill="none" stroke="#ee82ee" stroke-width="3.2"/><rect x="230.80" y="175.50" width="8.20" height="8.20" fill="none" stroke="#ee82ee" stroke-width="3.2"/><rect x="284.60" y="149.50" width="8.20" height="8.20" fill="none" stroke="#ee82ee" stroke-width="3.2"/><rect x="338.40" y="133.20" width="8.20" height="8.20" fill="none" stroke="#ee82ee" stroke-width="3.2"/><rect x="392.30" y="120.00" width="8.20" height="8.20" fill="none" stroke="#ee82ee" stroke-width="3.2"/><rect x="446.20" y="106.90" width="8.20" height="8.20" fill="none" stroke="#ee82ee" stroke-width="3.2"/><rect x="500.10" y="94.10" width="8.20" height="8.20" fill="none" stroke="#ee82ee" stroke-width="3.2"/><rect x="553.90" y="81.30" width="8.20" height="8.20" fill="none" stroke="#ee82ee" stroke-width="3.2"/><rect x="607.80" y="67.80" width="8.20" height="8.20" fill="none" stroke="#ee82ee" stroke-width="3.2"/><rect x="661.70" y="54.90" width="8.20" height="8.20" fill="none" stroke="#ee82ee" stroke-width="3.2"/><rect x="715.60" y="41.90" width="8.20" height="8.20" fill="none" stroke="#ee82ee" stroke-width="3.2"/>
<rect x="127.00" y="43.90" width="646.60" height="473.70" fill="none" stroke="#000" stroke-width="1.9"/>
<rect x="547.70" y="347.70" width="206.60" height="153.00" fill="#fff" stroke="#000" stroke-width="1.5"/>
<line x1="567.40" y1="372.90" x2="586.60" y2="372.90" stroke="#0060ad" stroke-width="3.4"/><line x1="567.40" y1="424.20" x2="586.60" y2="424.20" stroke="#dd181f" stroke-width="3.4"/><line x1="567.40" y1="475.80" x2="586.60" y2="475.80" stroke="#ee82ee" stroke-width="3.4"/><circle cx="577.00" cy="372.90" r="5.70" fill="#0060ad"/><rect x="571.30" y="418.50" width="11.40" height="11.40" fill="#dd181f"/><rect x="572.90" y="471.70" width="8.20" height="8.20" fill="none" stroke="#ee82ee" stroke-width="3.2"/><text transform="translate(605.6,387.90) scale(1,1.03)" font-size="38.4">Bilibili</text><text transform="translate(605.6,439.20) scale(1,1.03)" font-size="38.4">YouTube</text><text transform="translate(605.6,490.80) scale(1,1.03)" font-size="38.4">DF-W</text>
<text transform="translate(117.30,535.80) scale(1,1.0450)" font-size="46.40" text-anchor="end">0</text><text transform="translate(117.30,441.06) scale(1,1.0450)" font-size="46.40" text-anchor="end">0.2</text><text transform="translate(117.30,346.32) scale(1,1.0450)" font-size="46.40" text-anchor="end">0.4</text><text transform="translate(117.30,251.58) scale(1,1.0450)" font-size="46.40" text-anchor="end">0.6</text><text transform="translate(117.30,156.84) scale(1,1.0450)" font-size="46.40" text-anchor="end">0.8</text><text transform="translate(117.30,62.10) scale(1,1.0450)" font-size="46.40" text-anchor="end">1</text><text transform="translate(133.00,557.00) scale(1,1.0450)" font-size="46.40" text-anchor="middle">0</text><text transform="translate(240.77,557.00) scale(1,1.0450)" font-size="46.40" text-anchor="middle">100</text><text transform="translate(348.53,557.00) scale(1,1.0450)" font-size="46.40" text-anchor="middle">200</text><text transform="translate(456.30,557.00) scale(1,1.0450)" font-size="46.40" text-anchor="middle">300</text><text transform="translate(564.07,557.00) scale(1,1.0450)" font-size="46.40" text-anchor="middle">400</text><text transform="translate(671.83,557.00) scale(1,1.0450)" font-size="46.40" text-anchor="middle">500</text><text transform="translate(779.60,557.00) scale(1,1.0450)" font-size="46.40" text-anchor="middle">600</text>
<text transform="translate(469.00,611.00) scale(1,1.0100)" font-size="54.10" text-anchor="middle">Ranked channels</text><text transform="translate(52.80,324.30) rotate(-90) scale(1,1.0170)" font-size="53.70" text-anchor="middle">Fraction of videos (CDF)</text>
</svg></body></html>
